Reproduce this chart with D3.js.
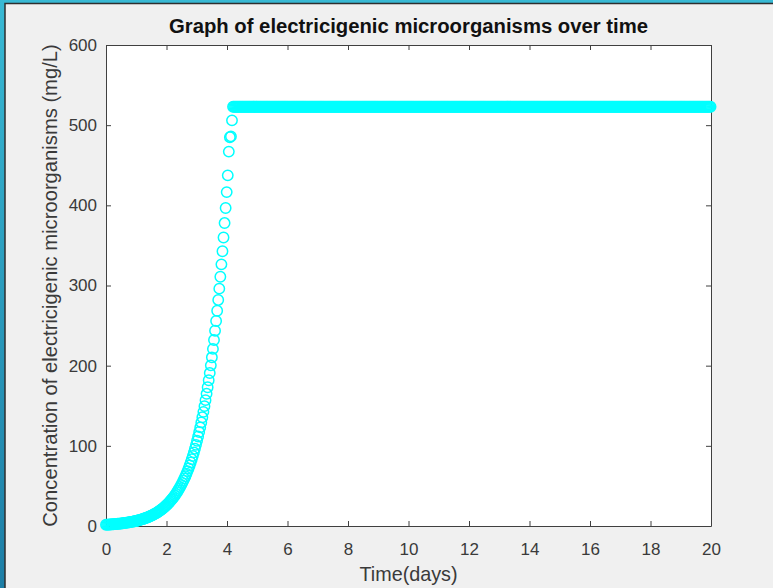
<!DOCTYPE html>
<html>
<head>
<meta charset="utf-8">
<script src="https://cdn.jsdelivr.net/npm/d3@7"></script>
<style>
body { margin: 0; background: #f0f0f0; }
svg { display: block; font-family: "Liberation Sans", Arial, sans-serif; }
</style>
</head>
<body>
<svg id="chart" width="773" height="588"></svg>
<script>
// time step between samples (days)
var dt = 0.035;

// growth phase (mg/L)
var growthValues = [
  1.60, 1.68, 1.76, 1.85, 1.94, 2.04, 2.14, 2.25, 2.36, 2.48,
  2.61, 2.74, 2.87, 3.02, 3.17, 3.33, 3.49, 3.67, 3.85, 4.04,
  4.25, 4.46, 4.68, 4.91, 5.16, 5.42, 5.69, 5.97, 6.27, 6.59,
  6.92, 7.26, 7.62, 8.01, 8.41, 8.83, 9.27, 9.73, 10.2, 10.7,
  11.3, 11.8, 12.4, 13.0, 13.7, 14.4, 15.1, 15.8, 16.6, 17.5,
  18.3, 19.3, 20.2, 21.2, 22.3, 23.4, 24.6, 25.8, 27.1, 28.5,
  29.9, 31.4, 33.0, 34.6, 36.3, 38.1, 40.1, 42.1, 44.2, 46.4,
  48.7, 51.1, 53.7, 56.4, 59.2, 62.1, 65.2, 68.5, 71.9, 75.5,
  79.3, 83.3, 87.4, 91.8, 96.4, 101.2, 106.3, 111.6, 117.2, 123.0,
  129.2, 135.6, 142.4, 149.5, 157.0, 164.9, 173.1, 181.8, 190.8, 200.4,
  210.4, 220.9, 232.0, 243.6, 255.7, 268.5, 282.0, 296.1, 310.9, 326.4,
  342.7, 359.9, 377.9, 396.7, 416.5, 437.4, 467, 485, 486, 506
];

// plateau phase, flat at the maximum concentration (mg/L)
var plateauValues = [
  523,523,523,523,523,523,523,523,523,523,523,523,523,523,523,523,523,523,523,523,
  523,523,523,523,523,523,523,523,523,523,523,523,523,523,523,523,523,523,523,523,
  523,523,523,523,523,523,523,523,523,523,523,523,523,523,523,523,523,523,523,523,
  523,523,523,523,523,523,523,523,523,523,523,523,523,523,523,523,523,523,523,523,
  523,523,523,523,523,523,523,523,523,523,523,523,523,523,523,523,523,523,523,523,
  523,523,523,523,523,523,523,523,523,523,523,523,523,523,523,523,523,523,523,523,
  523,523,523,523,523,523,523,523,523,523,523,523,523,523,523,523,523,523,523,523,
  523,523,523,523,523,523,523,523,523,523,523,523,523,523,523,523,523,523,523,523,
  523,523,523,523,523,523,523,523,523,523,523,523,523,523,523,523,523,523,523,523,
  523,523,523,523,523,523,523,523,523,523,523,523,523,523,523,523,523,523,523,523,
  523,523,523,523,523,523,523,523,523,523,523,523,523,523,523,523,523,523,523,523,
  523,523,523,523,523,523,523,523,523,523,523,523,523,523,523,523,523,523,523,523,
  523,523,523,523,523,523,523,523,523,523,523,523,523,523,523,523,523,523,523,523,
  523,523,523,523,523,523,523,523,523,523,523,523,523,523,523,523,523,523,523,523,
  523,523,523,523,523,523,523,523,523,523,523,523,523,523,523,523,523,523,523,523,
  523,523,523,523,523,523,523,523,523,523,523,523,523,523,523,523,523,523,523,523,
  523,523,523,523,523,523,523,523,523,523,523,523,523,523,523,523,523,523,523,523,
  523,523,523,523,523,523,523,523,523,523,523,523,523,523,523,523,523,523,523,523,
  523,523,523,523,523,523,523,523,523,523,523,523,523,523,523,523,523,523,523,523,
  523,523,523,523,523,523,523,523,523,523,523,523,523,523,523,523,523,523,523,523,
  523,523,523,523,523,523,523,523,523,523,523,523,523,523,523,523,523,523,523,523,
  523,523,523,523,523,523,523,523,523,523,523,523,523,523,523,523,523,523,523,523,
  523,523,523,523,523,523,523,523,523,523,523,523
];

var xTicks = [0, 2, 4, 6, 8, 10, 12, 14, 16, 18, 20];
var yTicks = [0, 100, 200, 300, 400, 500, 600];

var titleText = "Graph of electricigenic microorganisms over time";
var xLabelText = "Time(days)";
var yLabelText = "Concentration of electricigenic microorganisms (mg/L)";

window.onload = function()
{
  drawChart();
}

function drawChart()
{
  var svg = d3.select("#chart");
  var W = 773, H = 588;
  var plot = { left: 106, right: 711, top: 45, bottom: 526 };
  var axisColor = "#404040";

  // window frame (desktop showing at left and top edges)
  var defs = svg.append("defs");
  var grad = defs.append("linearGradient").attr("id", "desk")
    .attr("x1", 0).attr("y1", 0).attr("x2", 0).attr("y2", 1);
  grad.append("stop").attr("offset", "0%").attr("stop-color", "#38b9d4");
  grad.append("stop").attr("offset", "100%").attr("stop-color", "#1d7ea6");
  svg.append("rect").attr("width", W).attr("height", H).attr("fill", "url(#desk)");
  svg.append("rect")
    .attr("x", 5).attr("y", 3.5).attr("width", W + 10).attr("height", H + 10)
    .attr("fill", "#f0f0f0").attr("stroke", "#2e2e2e").attr("stroke-width", 1.5);

  // the combined series
  var values = growthValues.concat(plateauValues);
  var points = values.map(function(v, i) { return { t: i * dt, v: v }; });

  var x = d3.scaleLinear().domain([0, 20]).range([plot.left, plot.right]);
  var y = d3.scaleLinear().domain([0, 600]).range([plot.bottom, plot.top]);

  svg.append("rect")
    .attr("x", plot.left).attr("y", plot.top)
    .attr("width", plot.right - plot.left).attr("height", plot.bottom - plot.top)
    .attr("fill", "#ffffff");

  // axes, ticks pointing inwards like matlab's box
  var gx = svg.append("g").attr("transform", "translate(0," + plot.bottom + ")")
    .call(d3.axisBottom(x).tickValues(xTicks).tickSize(-5).tickSizeOuter(0).tickPadding(17));
  var gy = svg.append("g").attr("transform", "translate(" + plot.left + ",0)")
    .call(d3.axisLeft(y).tickValues(yTicks).tickSize(-5).tickSizeOuter(0).tickPadding(9));
  var gt = svg.append("g").attr("transform", "translate(0," + plot.top + ")")
    .call(d3.axisTop(x).tickValues(xTicks).tickSize(-5).tickSizeOuter(0).tickFormat(""));
  var gr = svg.append("g").attr("transform", "translate(" + plot.right + ",0)")
    .call(d3.axisRight(y).tickValues(yTicks).tickSize(-5).tickSizeOuter(0).tickFormat(""));

  [gx, gy, gt, gr].forEach(function(g) {
    g.selectAll("path, line").attr("stroke", axisColor).attr("stroke-width", 1);
    g.selectAll("text")
      .attr("fill", "#3a3a3a")
      .style("font-size", "17px")
      .style("font-family", "'Liberation Sans', Arial, sans-serif");
  });

  // circle markers
  svg.append("g").selectAll("circle")
    .data(points)
    .enter().append("circle")
    .attr("cx", function(d) { return x(d.t); })
    .attr("cy", function(d) { return y(d.v); })
    .attr("r", 5.2)
    .attr("fill", "none")
    .attr("stroke", "#00ffff")
    .attr("stroke-width", 1.5);

  // title and labels
  svg.append("text")
    .attr("x", (plot.left + plot.right) / 2).attr("y", 33)
    .attr("text-anchor", "middle")
    .style("font-size", "20.3px").style("font-weight", "bold")
    .attr("fill", "#111")
    .text(titleText);

  svg.append("text")
    .attr("x", (plot.left + plot.right) / 2).attr("y", 581)
    .attr("text-anchor", "middle")
    .style("font-size", "19.8px")
    .attr("fill", "#3a3a3a")
    .text(xLabelText);

  svg.append("text")
    .attr("transform", "translate(56.5," + (plot.top + plot.bottom) / 2 + ") rotate(-90)")
    .attr("text-anchor", "middle")
    .style("font-size", "20.2px")
    .attr("fill", "#3a3a3a")
    .text(yLabelText);
}
</script>
</body>
</html>
